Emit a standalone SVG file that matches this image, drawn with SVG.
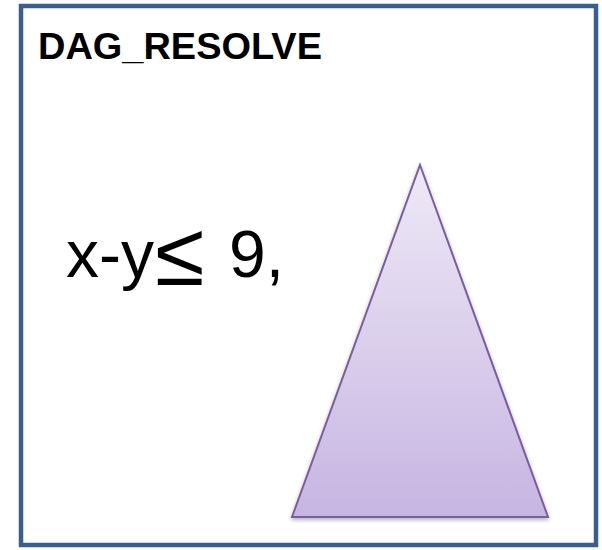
<svg xmlns="http://www.w3.org/2000/svg" width="602" height="550" viewBox="0 0 602 550">
<style>
.frame{fill:#fff;stroke:#3A5F8E;stroke-width:4.5}
.title{font-family:"Liberation Sans",Arial,sans-serif;font-weight:bold;font-size:37px;fill:#000}
.expr{font-family:"Liberation Sans",Arial,sans-serif;font-size:66px;fill:#000}
.tri{fill:url(#g);stroke:#7A5FA0;stroke-width:2}
</style>
<defs>
<linearGradient id="g" x1="0" y1="0" x2="0" y2="1">
<stop offset="0" stop-color="#EEE9F6"/>
<stop offset="1" stop-color="#C7B5E2"/>
</linearGradient>
<filter id="sh" x="-10%" y="-10%" width="120%" height="120%">
<feGaussianBlur in="SourceAlpha" stdDeviation="2"/>
<feOffset dx="0" dy="2"/>
<feComponentTransfer><feFuncA type="linear" slope="0.3"/></feComponentTransfer>
<feMerge><feMergeNode/><feMergeNode in="SourceGraphic"/></feMerge>
</filter>
</defs>
<g id="frame">
<rect class="frame" x="21" y="6" width="575" height="539"/>
<text class="title" x="38" y="59" textLength="284" lengthAdjust="spacingAndGlyphs">DAG_RESOLVE</text>
</g>
<g id="expression">
<text class="expr" x="66" y="277">x-y<tspan x="155" y="285" font-size="90">≤</tspan><tspan x="229" y="277">9,</tspan></text>
</g>
<g id="triangle">
<polygon class="tri" filter="url(#sh)" points="420,165 548,517 292,517"/>
</g>
<g id="connectors"/>
</svg>
